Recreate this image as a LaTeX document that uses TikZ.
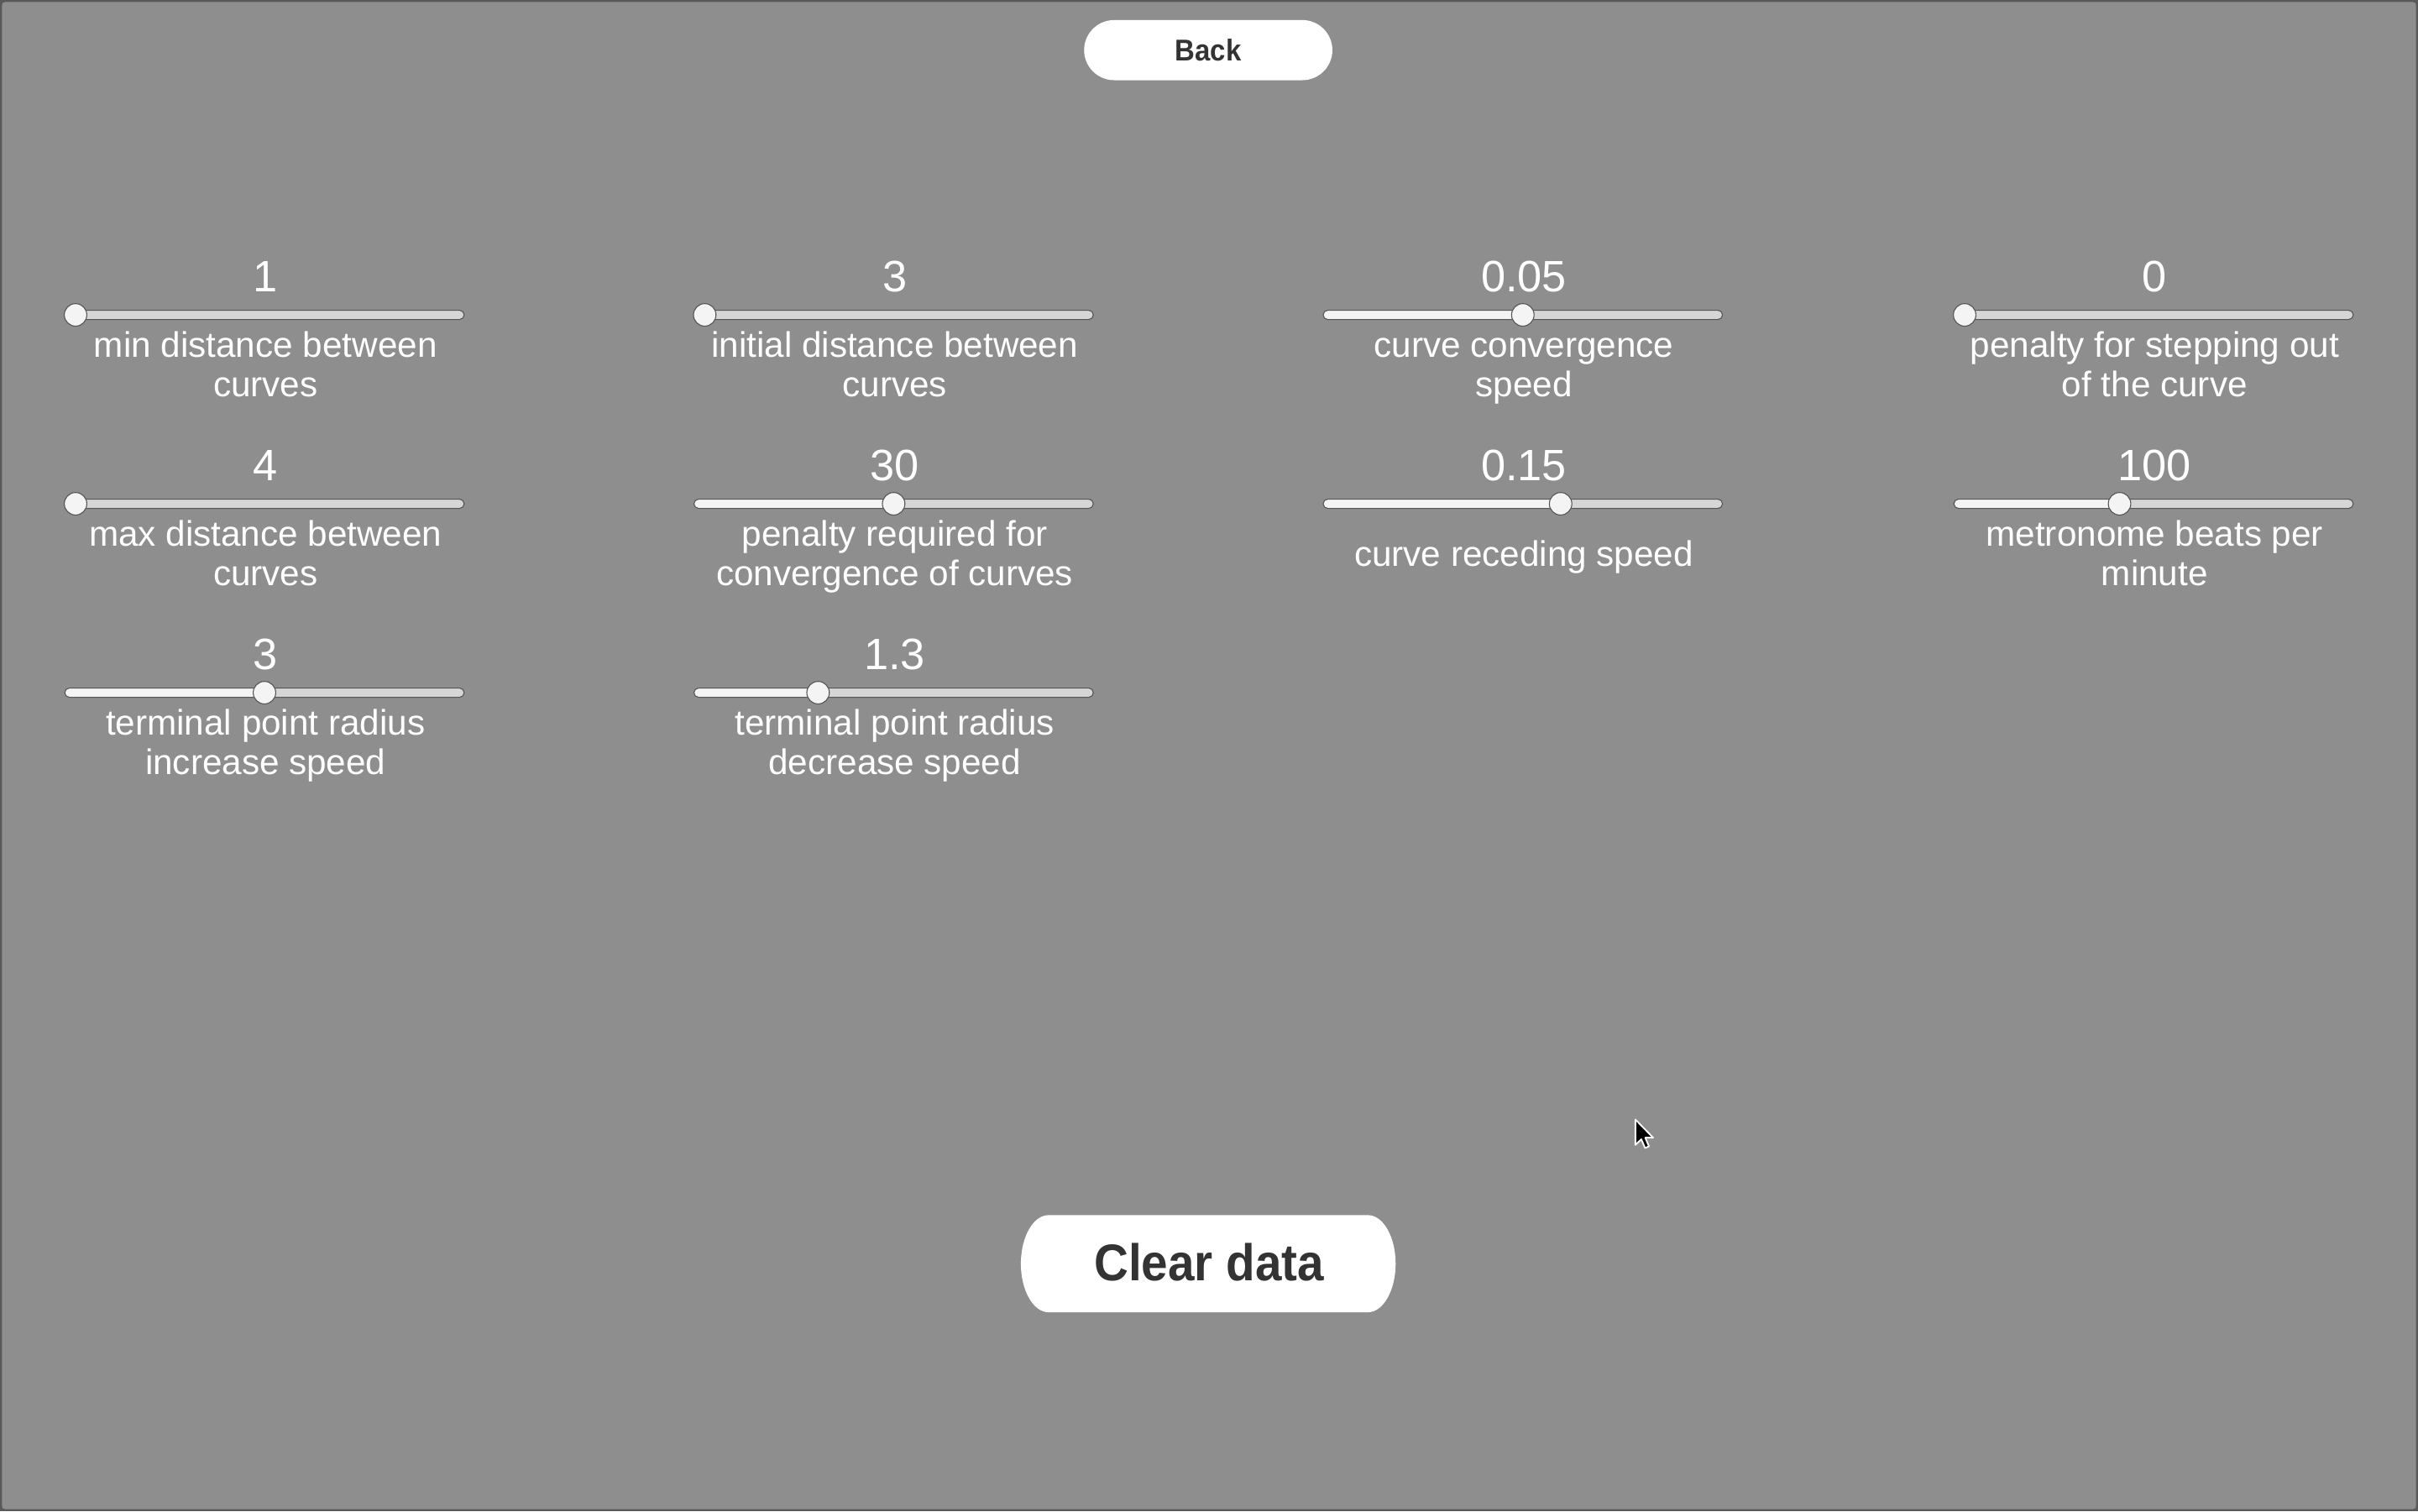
\documentclass[tikz,border=0pt]{standalone}
\usepackage{fontspec}
\setmainfont{Liberation Sans}
\newfontfamily\btnfont[FakeStretch=0.92]{Liberation Sans}
\definecolor{bg}{HTML}{8E8E8E}
\definecolor{frame}{HTML}{595959}
\definecolor{trackbg}{HTML}{D6D6D6}
\definecolor{trackfill}{HTML}{F4F4F4}
\definecolor{trackline}{HTML}{555555}
\definecolor{btntext}{HTML}{333333}
\tikzset{
  knob/.style={circle, minimum size=14.6pt, inner sep=0pt, fill=trackfill, draw=trackline, line width=0.6pt},
  valtext/.style={anchor=base, inner sep=0pt, text=white, font=\fontsize{28.5}{30}\selectfont},
  lbl/.style={anchor=base, inner sep=0pt, text=white, font=\fontsize{23}{26}\selectfont, xshift=0.7pt},
  btntxt/.style={inner sep=0pt, text=btntext},
}
\newcommand\uislider[5]{%
  \pgfmathsetmacro\slL{#2-129.5}%
  \pgfmathsetmacro\slR{#2+129.5}%
  \pgfmathsetmacro\slK{#2-122.5+245*#4}%
  \fill[trackbg, rounded corners=3pt] (\slL,#3-3) rectangle (\slR,#3+3);
  \fill[trackfill, rounded corners=3pt] (\slL,#3-3) rectangle (\slK,#3+3);
  \draw[trackline, line width=0.6pt, rounded corners=3pt] (\slL,#3-3) rectangle (\slR,#3+3);
  \node[knob] (#1k) at (\slK,#3) {};
  \node[valtext] (#1v) at (#2+0.7,#3-14.8) {#5};
}
\begin{document}
\begin{tikzpicture}[x=1pt,y=-1pt]
\useasboundingbox (0,0) rectangle (1568,980);
\fill[frame] (0,0) rectangle (1568,980);
\fill[bg, rounded corners=2pt] (1.3,1.3) rectangle (1566.7,978.7);

% Back button
\node[btntxt, fill=white, rounded corners=19.5pt, minimum width=161pt, minimum height=39pt,
      font=\btnfont\bfseries\fontsize{19.5}{21}\selectfont] (back) at (783.5,32.5) {Back};

% Row 1
\uislider{a}{171.5}{204.2}{0}{1}
\node[lbl] (a1) at (171.5,231.8) {min distance between};
\node[lbl] (a2) at (171.5,257.4) {curves};
\uislider{b}{579.5}{204.2}{0}{3}
\node[lbl] (b1) at (579.5,231.8) {initial distance between};
\node[lbl] (b2) at (579.5,257.4) {curves};
\uislider{c}{987.5}{204.2}{0.5}{0.05}
\node[lbl] (c1) at (987.5,231.8) {curve convergence};
\node[lbl] (c2) at (987.5,257.4) {speed};
\uislider{d}{1396.5}{204.2}{0}{0}
\node[lbl] (d1) at (1396.5,231.8) {penalty for stepping out};
\node[lbl] (d2) at (1396.5,257.4) {of the curve};

% Row 2
\uislider{e}{171.5}{326.7}{0}{4}
\node[lbl] (e1) at (171.5,354.3) {max distance between};
\node[lbl] (e2) at (171.5,379.9) {curves};
\uislider{f}{579.5}{326.7}{0.5}{30}
\node[lbl] (f1) at (579.5,354.3) {penalty required for};
\node[lbl] (f2) at (579.5,379.9) {convergence of curves};
\uislider{g}{987.5}{326.7}{0.6}{0.15}
\node[lbl] (g1) at (987.5,367.1) {curve receding speed};
\uislider{h}{1396.5}{326.7}{0.41}{100}
\node[lbl] (h1) at (1396.5,354.3) {metronome beats per};
\node[lbl] (h2) at (1396.5,379.9) {minute};

% Row 3
\uislider{i}{171.5}{449.2}{0.5}{3}
\node[lbl] (i1) at (171.5,476.8) {terminal point radius};
\node[lbl] (i2) at (171.5,502.4) {increase speed};
\uislider{j}{579.5}{449.2}{0.3}{1.3}
\node[lbl] (j1) at (579.5,476.8) {terminal point radius};
\node[lbl] (j2) at (579.5,502.4) {decrease speed};

% Clear data button
\fill[white] (680,788) -- (887,788)
  arc[start angle=-90, end angle=0, x radius=18, y radius=31.5]
  arc[start angle=0, end angle=90, x radius=18, y radius=31.5]
  -- (680,851)
  arc[start angle=90, end angle=180, x radius=18, y radius=31.5]
  arc[start angle=180, end angle=270, x radius=18, y radius=31.5] -- cycle;
\node[btntxt, font=\btnfont\bfseries\fontsize{33.5}{36}\selectfont] (clear) at (784,818.5) {Clear data};

% mouse cursor
\begin{scope}[shift={(1060.5,726)}]
\filldraw[fill=black, draw=white, line width=1pt, line join=round]
  (0,0) -- (0,16.5) -- (3.8,12.8) -- (6.3,18.5) -- (8.8,17.4) -- (6.4,11.8) -- (11.5,11.8) -- cycle;
\end{scope}
\end{tikzpicture}
\end{document}
